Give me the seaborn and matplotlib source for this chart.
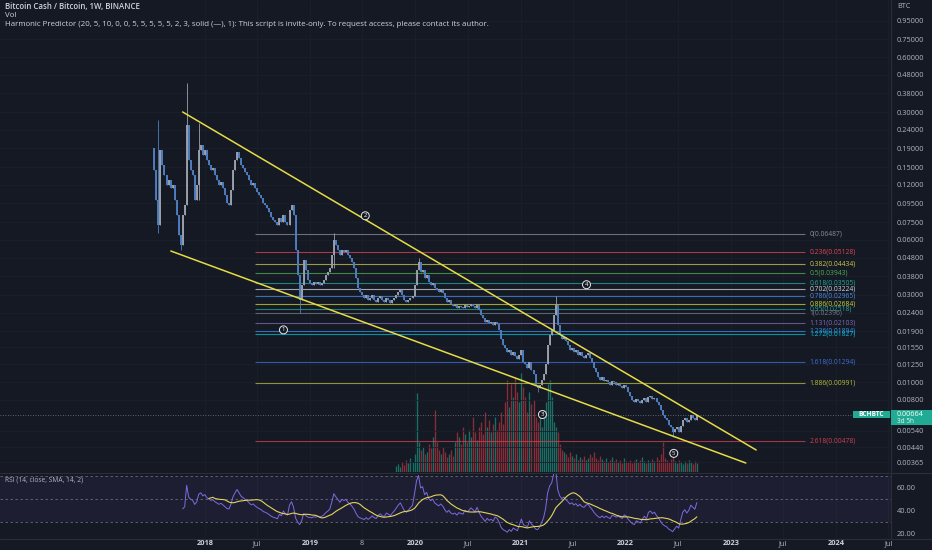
import numpy as np
import pandas as pd
import matplotlib
matplotlib.use("Agg")
import matplotlib.pyplot as plt
import seaborn as sns
from matplotlib.patches import Rectangle
from matplotlib.ticker import FixedLocator, FixedFormatter, NullLocator
from matplotlib.lines import Line2D

# ---------------- data ----------------
start_week = "2017-07-10"
first_open = 0.19
closes = [
    0.145, 0.0994, 0.0726, 0.1865, 0.1544, 0.1361, 0.1200, 0.1278, 0.1156, 0.1200,
    0.0994, 0.0823, 0.0640, 0.0564, 0.0823, 0.0933, 0.2554, 0.1644, 0.1450, 0.1361,
    0.0994, 0.1200, 0.1865, 0.1986, 0.1751, 0.1865, 0.1644, 0.1544, 0.1450, 0.1487,
    0.1361, 0.1278, 0.1200, 0.1246, 0.1156, 0.1058, 0.0957, 0.0933, 0.1127, 0.1450,
    0.1644, 0.1818, 0.1686, 0.1544, 0.1487, 0.1414, 0.1361, 0.1278, 0.1200, 0.1231,
    0.1156, 0.1099, 0.1058, 0.1019, 0.0957, 0.0933, 0.0898, 0.0854, 0.0802, 0.0773,
    0.0754, 0.0726, 0.0793, 0.0754, 0.0823, 0.0754, 0.0726, 0.0876, 0.0933, 0.0823,
    0.0530, 0.0387, 0.0282, 0.0341, 0.0467, 0.0412, 0.0363, 0.0350, 0.0341, 0.0354,
    0.0345, 0.0354, 0.0341, 0.0350, 0.0363, 0.0387, 0.0402, 0.0423, 0.0497, 0.0601,
    0.0564, 0.0530, 0.0497, 0.0530, 0.0517, 0.0530, 0.0497, 0.0479, 0.0455, 0.0423,
    0.0372, 0.0328, 0.0312, 0.0301, 0.0290, 0.0301, 0.0282, 0.0290, 0.0301, 0.0282,
    0.0275, 0.0290, 0.0297, 0.0282, 0.0275, 0.0290, 0.0282, 0.0272, 0.0282, 0.0290,
    0.0301, 0.0312, 0.0320, 0.0301, 0.0282, 0.0275, 0.0282, 0.0290, 0.0297, 0.0341,
    0.0412, 0.0455, 0.0402, 0.0412, 0.0372, 0.0387, 0.0354, 0.0341, 0.0350, 0.0328,
    0.0320, 0.0312, 0.0320, 0.0309, 0.0290, 0.0275, 0.0282, 0.0268, 0.0262, 0.0265,
    0.0255, 0.0262, 0.0258, 0.0255, 0.0265, 0.0258, 0.0262, 0.0268, 0.0262, 0.0255,
    0.0265, 0.0249, 0.0234, 0.0225, 0.0213, 0.0219, 0.0211, 0.0213, 0.0206, 0.0213,
    0.0208, 0.0193, 0.0171, 0.0160, 0.0154, 0.0146, 0.0150, 0.0141, 0.0146, 0.0139,
    0.0133, 0.0141, 0.0150, 0.0129, 0.0125, 0.0120, 0.0129, 0.0117, 0.0110, 0.00968,
    0.00932, 0.00968, 0.0103, 0.0110, 0.0125, 0.0160, 0.0182, 0.0193, 0.0234, 0.0265,
    0.0206, 0.0182, 0.0171, 0.0177, 0.0167, 0.0160, 0.0150, 0.0154, 0.0146, 0.0150,
    0.0141, 0.0146, 0.0139, 0.0136, 0.0141, 0.0144, 0.0136, 0.0129, 0.0120, 0.0113,
    0.0107, 0.0103, 0.0106, 0.0101, 0.0103, 0.00995, 0.00968, 0.0101, 0.00995, 0.00968,
    0.00980, 0.00956, 0.00932, 0.00968, 0.00944, 0.00887, 0.00843, 0.00802, 0.00782, 0.00812,
    0.00792, 0.00772, 0.00802, 0.00822, 0.00782, 0.00833, 0.00843, 0.00812, 0.00822, 0.00782,
    0.00753, 0.00707, 0.00664, 0.00639, 0.00623, 0.00585, 0.00564, 0.00536, 0.00550, 0.00564,
    0.00536, 0.00578, 0.00623, 0.00639, 0.00608, 0.00623, 0.00656, 0.00639, 0.00623, 0.00664,
]
# notable wick extremes: candle index -> (high, low)
wick_extremes = {
    2: (0.272, 0.0656), 13: (0.0564, 0.053), 16: (0.433, 0.0933), 22: (0.262, 0.0994),
    72: (0.0341, 0.0240), 89: (0.0656, 0.0423), 131: (0.048, 0.0412), 190: (0.00968, 0.0088),
    199: (0.0297, 0.0234), 257: (0.00564, 0.0050),
}
# weekly volume (arbitrary units) for the last weeks shown
volume = [6, 8, 5, 10, 7, 12, 9, 14, 10, 18, 79, 30, 22, 25, 18, 20, 28, 24, 35, 62,
          30, 22, 18, 25, 20, 15, 18, 22, 16, 30, 40, 35, 28, 45, 38, 30, 42, 35, 55, 40,
          32, 45, 50, 38, 60, 45, 52, 40, 48, 55, 42, 50, 60, 48, 70, 92, 65, 88, 75, 95,
          80, 70, 99, 85, 75, 60, 80, 68, 72, 55, 50, 60, 45, 62, 70, 88, 92, 75, 50, 45,
          40, 28, 22, 20, 18, 15, 20, 16, 14, 18, 12, 15, 13, 16, 12, 14, 18, 15, 20, 14,
          12, 16, 13, 11, 14, 10, 12, 15, 11, 13, 10, 12, 9, 14, 11, 10, 12, 9, 11, 13,
          10, 12, 15, 11, 9, 12, 10, 13, 11, 15, 12, 18, 30, 14, 12, 10, 13, 16, 11, 9,
          12, 10, 8, 11, 9, 12, 10, 8, 11, 9]

fib_ratios = ["0", "0.236", "0.382", "0.5", "0.618", "0.702", "0.786", "0.886", "0.95",
              "1", "1.131", "1.236", "1.272", "1.618", "1.886", "2.618"]
fib_prices = [0.06487, 0.05128, 0.04434, 0.03943, 0.03505, 0.03224, 0.02965, 0.02684,
              0.02518, 0.02396, 0.02103, 0.01894, 0.01827, 0.01294, 0.00991, 0.00478]
fib_colors = ["#8a8d96", "#e0454f", "#c9c94b", "#4caf50", "#22ab94", "#d1d4dc", "#4a8de0",
              "#c6d43a", "#26a69a", "#787b86", "#7b6cb8", "#3a8ee6", "#00bcd4", "#3d6fd9",
              "#b5bd3a", "#d0404b"]
fib_start, fib_end, fib_label_at = "2018-06-23", "2023-09-14", "2023-10-01"

trend_upper = (["2017-10-16", "2023-03-30"], [0.3007, 0.004246])
trend_lower = (["2017-09-05", "2023-02-22"], [0.05214, 0.003604])

wave_labels = ["1", "2", "3", "4", "5"]
wave_dates = ["2018-10-01", "2019-07-12", "2021-03-18", "2021-08-18", "2022-06-17"]
wave_prices = [0.0193, 0.0813, 0.00664, 0.0341, 0.00407]

price_ticks = [0.95, 0.75, 0.60, 0.48, 0.38, 0.30, 0.24, 0.19, 0.15, 0.12, 0.095, 0.075,
               0.060, 0.048, 0.038, 0.030, 0.024, 0.019, 0.0155, 0.0125, 0.010, 0.008,
               0.0054, 0.0044, 0.00365]
rsi_ticks = [20, 40, 60]
time_ticks = ["2018-01-01", "2018-07-01", "2019-01-01", "2019-07-01", "2020-01-01",
              "2020-07-01", "2021-01-01", "2021-07-01", "2022-01-01", "2022-07-01",
              "2023-01-01", "2023-07-01", "2024-01-01", "2024-07-01"]
time_labels = ["2018", "Jul", "2019", "8", "2020", "Jul", "2021", "Jul", "2022", "Jul",
               "2023", "Jul", "2024", "Jul"]

# ---------------- style ----------------
BG = "#151924"
GRID = "#1c202b"
TXT = "#b2b5be"
sns.set_theme(style="dark", rc={"axes.facecolor": BG, "figure.facecolor": BG})
plt.rcParams["font.family"] = ["Open Sans", "DejaVu Sans"]

W, H = 932, 550
fig = plt.figure(figsize=(W / 100, H / 100), dpi=100, facecolor=BG)
axv = fig.add_axes([0, 1 - 472 / H, 891 / W, 472 / H])          # volume (behind)
ax = fig.add_axes([0, 1 - 472 / H, 891 / W, 472 / H], sharex=axv)  # price
axr = fig.add_axes([0, 1 - 538 / H, 891 / W, 65 / H], sharex=axv)  # RSI
axv.set_zorder(0)
ax.set_zorder(1)
axr.set_zorder(1)
ax.patch.set_visible(False)
for a in (ax, axr, axv):
    for s in a.spines.values():
        s.set_visible(False)
axv.set_facecolor(BG)
axr.set_facecolor(BG)

dates = pd.date_range(start_week, periods=len(closes), freq="7D")
c = np.array(closes)
o = np.array([first_open] + closes[:-1])
up = c >= o
body_lo, body_hi = np.minimum(o, c), np.maximum(o, c)
wick_lo, wick_hi = body_lo.copy(), body_hi.copy()
for k, (h, l) in wick_extremes.items():
    wick_hi[k] = max(wick_hi[k], h)
    wick_lo[k] = min(wick_lo[k], l)
cand_cols = ["#9ba1ad" if u else "#4f7fc0" for u in up]

# volume
vdates = dates[-len(volume):]
vcols = ["#1c8575" if u else "#a8313e" for u in up[-len(volume):]]
axv.vlines(vdates, 0, volume, colors=vcols, linewidth=0.95, alpha=0.8)
axv.set_ylim(0, max(volume) * 472 / 99)
axv.set_yticks([])
axv.tick_params(axis="x", length=0, labelbottom=False)
axv.xaxis.set_major_locator(FixedLocator([pd.Timestamp(t).toordinal() - 719163 for t in time_ticks]))
axv.grid(True, axis="x", color=GRID, linewidth=0.6)
axv.grid(False, axis="y")

# price axis
ax.set_yscale("log")
ax.set_ylim(0.003218, 1.2331)
ax.yaxis.tick_right()
ax.yaxis.set_major_locator(FixedLocator(price_ticks))
ax.yaxis.set_major_formatter(FixedFormatter([f"{v:.5f}" for v in price_ticks]))
ax.yaxis.set_minor_locator(NullLocator())
ax.tick_params(axis="y", length=0, pad=4.3, labelsize=5.3, labelcolor=TXT)
ax.tick_params(axis="x", length=0, labelbottom=False)
ax.grid(True, axis="y", color=GRID, linewidth=0.6)
ax.grid(False, axis="x")

# fib levels
ax.hlines(fib_prices, pd.Timestamp(fib_start), pd.Timestamp(fib_end), colors=fib_colors,
          linewidth=0.8, alpha=0.75, zorder=2)
for r, p, col in zip(fib_ratios, fib_prices, fib_colors):
    ax.text(pd.Timestamp(fib_label_at), p, f"{r}({p:.5f})", color=col, fontsize=4.9,
            va="center", ha="left", zorder=3)

# candles (wick + body as vertical segments)
ax.vlines(dates, wick_lo, wick_hi, colors=cand_cols, linewidth=0.6, zorder=4)
ax.vlines(dates, body_lo, body_hi, colors=cand_cols, linewidth=1.35, zorder=5)

# trend lines
for d, p in (trend_upper, trend_lower):
    ax.plot(pd.to_datetime(d), p, color="#e6dc45", linewidth=1.1, zorder=6)

# wave labels
for lab, d, p in zip(wave_labels, wave_dates, wave_prices):
    ax.text(pd.Timestamp(d), p, lab, color="white", fontsize=4.3, ha="center", va="center",
            zorder=7, bbox=dict(boxstyle="circle,pad=0.25", fc=BG, ec="#e8e8e8", lw=0.7))

# last price line
last = closes[-1]
ax.axhline(last, xmin=0, xmax=853 / 891, color="#787b86", linewidth=0.6, linestyle=(0, (1, 2)), zorder=3)

# ---------------- RSI ----------------
n = 14
d = np.diff(c)
gain, loss = np.clip(d, 0, None), np.clip(-d, 0, None)
rsi = np.full(len(c), np.nan)
ag, al = gain[:n].mean(), loss[:n].mean()
rsi[n] = 100 - 100 / (1 + ag / al)
for k in range(n, len(d)):
    ag = (ag * (n - 1) + gain[k]) / n
    al = (al * (n - 1) + loss[k]) / n
    rsi[k + 1] = 100 - 100 / (1 + ag / al)
rsi_ma = pd.Series(rsi).rolling(n).mean().to_numpy()
rdf = pd.DataFrame({"date": dates, "rsi": rsi, "ma": rsi_ma})

axr.axhspan(30, 70, color="#7e57c2", alpha=0.09, linewidth=0)
for lv in (70, 50, 30):
    axr.axhline(lv, color="#787b86", linewidth=0.6, linestyle=(0, (3, 3)), alpha=0.8)
sns.lineplot(data=rdf.dropna(subset=["rsi"]), x="date", y="rsi", ax=axr, color="#7e6ae0", linewidth=0.7)
sns.lineplot(data=rdf.dropna(subset=["ma"]), x="date", y="ma", ax=axr, color="#e2d45c", linewidth=0.8)
axr.set_ylim(15.9, 72.9)
axr.set_xlabel("")
axr.set_ylabel("")
axr.yaxis.tick_right()
axr.yaxis.set_major_locator(FixedLocator(rsi_ticks))
axr.yaxis.set_major_formatter(FixedFormatter([f"{v:.2f}" for v in rsi_ticks]))
axr.tick_params(axis="y", length=0, pad=4.3, labelsize=5.3, labelcolor=TXT)
axr.set_xlim(pd.Timestamp("2016-01-21"), pd.Timestamp("2024-07-10"))
axr.xaxis.set_major_locator(FixedLocator([pd.Timestamp(t).toordinal() - 719163 for t in time_ticks]))
axr.xaxis.set_major_formatter(FixedFormatter(time_labels))
axr.tick_params(axis="x", length=0, pad=1.6, labelsize=5.3, labelcolor=TXT)
for lbl, txt in zip(axr.get_xticklabels(), time_labels):
    if txt.isdigit() and len(txt) == 4:
        lbl.set_color("#d1d4dc")
        lbl.set_fontweight("bold")
axr.grid(True, axis="x", color=GRID, linewidth=0.6)
axr.grid(False, axis="y")

# separators
fig.add_artist(Line2D([891 / W, 891 / W], [1 - 538 / H, 1], transform=fig.transFigure, color="#2a2e39", lw=0.8))
fig.add_artist(Line2D([0, 1], [1 - 472.5 / H] * 2, transform=fig.transFigure, color="#2a2e39", lw=0.8))
fig.add_artist(Line2D([0, 1], [1 - 538.5 / H] * 2, transform=fig.transFigure, color="#2a2e39", lw=0.8))

# header texts
fig.text(5 / W, 1 - 7 / H, "Bitcoin Cash / Bitcoin, 1W, BINANCE", color="#d1d4dc", fontsize=5.7,
         fontweight="semibold", va="center", ha="left")
fig.text(5 / W, 1 - 15.5 / H, "Vol", color="#d1d4dc", fontsize=5.7, va="center", ha="left")
fig.text(5 / W, 1 - 24 / H,
         "Harmonic Predictor (20, 5, 10, 0, 0, 5, 5, 5, 5, 5, 2, 3, solid (—), 1): This script is invite-only. "
         "To request access, please contact its author.",
         color="#d1d4dc", fontsize=5.7, va="center", ha="left")
fig.text(5 / W, 1 - 480 / H, "RSI (14, close, SMA, 14, 2)", color=TXT, fontsize=4.8, va="center", ha="left")
fig.text(897 / W, 1 - 6 / H, "BTC", color=TXT, fontsize=5.2, va="center", ha="left")

# last price badges
fig.canvas.draw()
ypx = ax.transData.transform((ax.get_xlim()[0], last))[1]
yf = ypx / H
fig.patches.append(Rectangle((891 / W, yf - 10 / H), 41 / W, 15 / H, transform=fig.transFigure,
                             facecolor="#22ab94", edgecolor="none", zorder=20))
fig.patches.append(Rectangle((853 / W, yf - 3.8 / H), 37 / W, 7.6 / H, transform=fig.transFigure,
                             facecolor="#22ab94", edgecolor="none", zorder=20))
fig.text(871.5 / W, yf, "BCHBTC", color="white", fontsize=4.7, fontweight="bold",
         ha="center", va="center", zorder=21)
fig.text(897 / W, yf, f"{last:.5f}", color="white", fontsize=5.2, ha="left", va="center", zorder=21)
fig.text(897 / W, yf - 7 / H, "3d 5h", color="#dff5f0", fontsize=4.7, ha="left", va="center", zorder=21)

fig.savefig("out.png", dpi=100, facecolor=BG)
